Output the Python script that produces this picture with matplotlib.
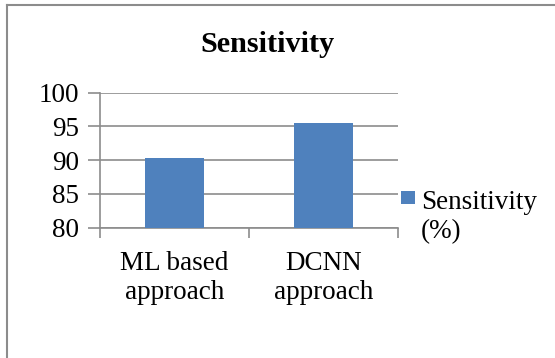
import matplotlib
matplotlib.use("Agg")
import matplotlib.pyplot as plt
from matplotlib.lines import Line2D
from matplotlib.patches import Rectangle

categories = ["ML based\napproach", "DCNN\napproach"]
values = [90.33, 95.56]
series_name = "Sensitivity\n(%)"
title = "Sensitivity"
yticks = [80, 85, 90, 95, 100]

plt.rcParams['font.family'] = ['Liberation Serif', 'DejaVu Serif']

W, H = 555, 358
fig = plt.figure(figsize=(W / 100, H / 100), dpi=100)
fig.patch.set_facecolor('white')

# outer frame (top and left only visible)
fig.add_artist(Line2D([6.5 / W, 1.0], [1 - 4.5 / H, 1 - 4.5 / H], color='#8c8c8c', lw=1.5))
fig.add_artist(Line2D([6.5 / W, 6.5 / W], [0.0, 1 - 4.5 / H], color='#8c8c8c', lw=1.5))

left, right = 100 / W, 398 / W
top, bottom = 1 - 92.7 / H, 1 - 227.7 / H
ax = fig.add_axes([left, bottom, right - left, top - bottom])

bar_color = '#4f81bd'
x = list(range(len(categories)))
ax.bar(x, values, width=0.39, color=bar_color, zorder=3, label=series_name)
ax.set_xlim(-0.5, len(categories) - 0.5)
ax.set_ylim(80, 100)
ax.set_yticks(yticks)
ax.set_yticklabels([str(v) for v in yticks], fontsize=19.5)
ax.grid(axis='y', color='#8c8c8c', lw=1.2, zorder=0)
ax.set_axisbelow(True)

for s in ['top', 'right']:
    ax.spines[s].set_visible(False)
for s in ['left', 'bottom']:
    ax.spines[s].set_color('#8c8c8c')
    ax.spines[s].set_linewidth(1.2)

ax.tick_params(axis='y', direction='out', length=9, width=1.2, color='#8c8c8c', pad=6)
ax.set_xticks([-0.5, 0.5, 1.5], minor=False)
ax.set_xticklabels([])
ax.tick_params(axis='x', which='major', direction='out', length=7, width=1.2, color='#8c8c8c')
ax.set_xticks(x, minor=True)
ax.set_xticklabels(categories, minor=True, fontsize=19.5, linespacing=1.2)
ax.tick_params(axis='x', which='minor', length=0, pad=17)

fig.text(267 / W, 1 - 44 / H, title, fontsize=21.8, fontweight='bold', ha='center', va='center')

# legend: swatch + label
fig.add_artist(Rectangle((401 / W, 1 - 204 / H), 14 / W, 13 / H, facecolor=bar_color,
                         edgecolor='none', transform=fig.transFigure))
fig.text(421 / W, 1 - 190 / H, series_name, fontsize=19.5, ha='left', va='top', linespacing=1.22)

fig.savefig("out.png", dpi=100, facecolor='white')
